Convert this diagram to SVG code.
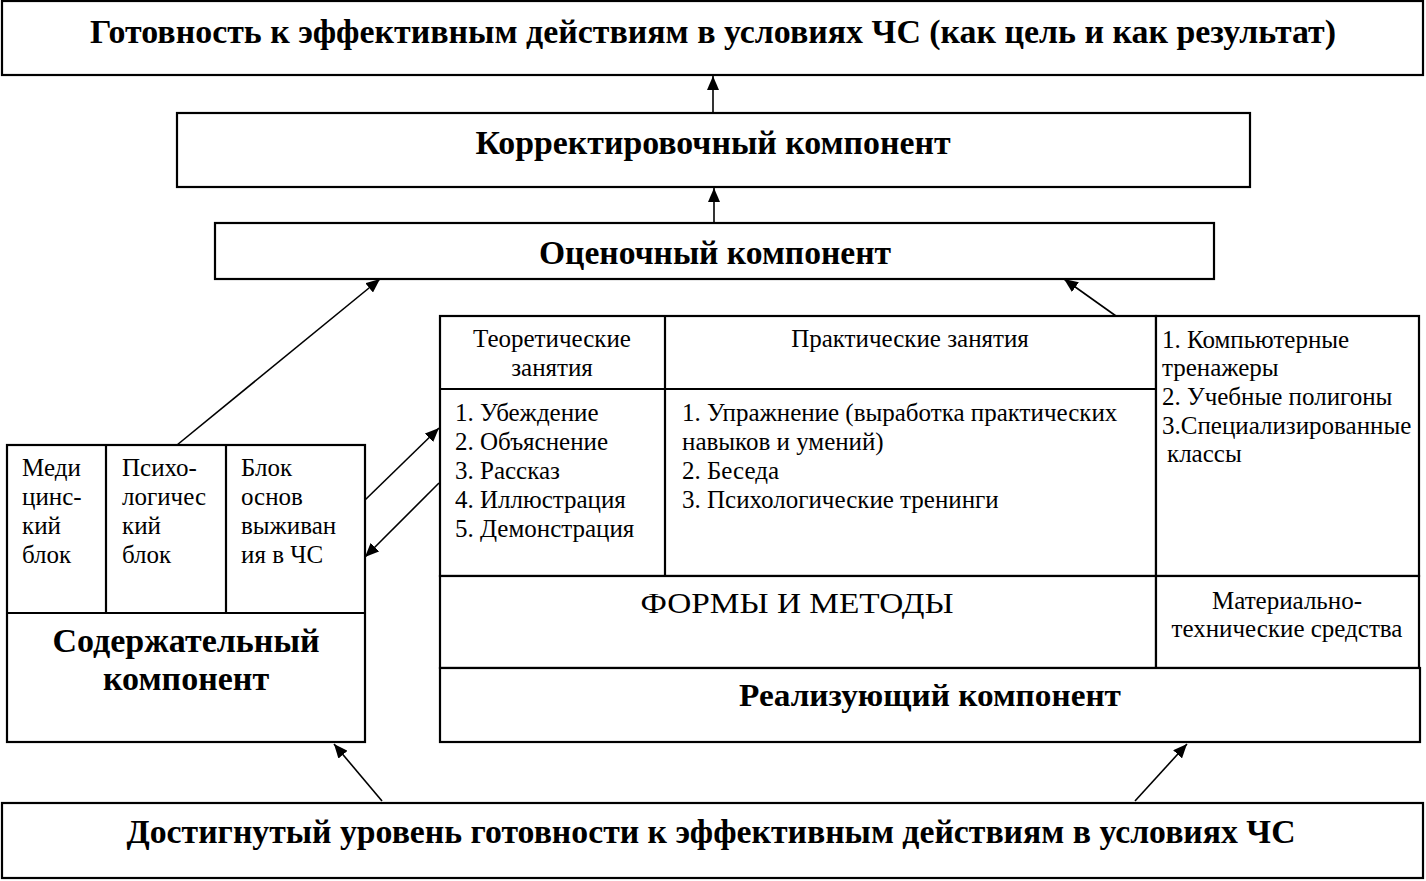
<svg xmlns="http://www.w3.org/2000/svg" width="1426" height="881" viewBox="0 0 1426 881">
<defs>
<marker id="ah" markerUnits="userSpaceOnUse" markerWidth="16" markerHeight="12" refX="14" refY="6" orient="auto">
<path d="M0,0 L14,6 L0,12 Z" fill="#000"/>
</marker>
<style>
rect,line.b{fill:#fff;stroke:#000;stroke-width:2.2}
.cl{stroke:#000;stroke-width:2.2;fill:none}
.c{stroke:#000;stroke-width:1.6;fill:none;marker-end:url(#ah)}
text{font-family:"Liberation Serif","Times New Roman",serif;fill:#000}
.h{font-weight:bold;font-size:33px;text-anchor:middle}
.n{font-size:25px}
.m{text-anchor:middle}
</style>
</defs>
<g id="connectors">
<line class="c" x1="713" y1="112" x2="713" y2="76"/>
<line class="c" x1="714" y1="222" x2="714" y2="188"/>
<line class="c" x1="177" y1="445" x2="380" y2="279"/>
<line class="c" x1="1116" y1="316" x2="1064" y2="279"/>
<line class="c" x1="365" y1="500" x2="439" y2="428"/>
<line class="c" x1="439" y1="483" x2="365" y2="557"/>
<line class="c" x1="382" y1="801" x2="334" y2="744"/>
<line class="c" x1="1135" y1="801" x2="1187" y2="744"/>
</g>
<g id="goal">
<rect x="2" y="1" width="1421" height="74"/>
<text class="h" x="713" y="43" textLength="1246" lengthAdjust="spacingAndGlyphs">Готовность к эффективным действиям в условиях ЧС (как цель и как результат)</text>
</g>
<g id="correct">
<rect x="177" y="113" width="1073" height="74"/>
<text class="h" x="713" y="154" textLength="475" lengthAdjust="spacingAndGlyphs">Корректировочный компонент</text>
</g>
<g id="eval">
<rect x="215" y="223" width="999" height="56"/>
<text class="h" x="715" y="264" textLength="352" lengthAdjust="spacingAndGlyphs">Оценочный компонент</text>
</g>
<g id="content">
<rect x="7" y="445" width="358" height="297"/>
<line class="cl" x1="7" y1="613" x2="365" y2="613"/>
<line class="cl" x1="106" y1="445" x2="106" y2="613"/>
<line class="cl" x1="226" y1="445" x2="226" y2="613"/>
<text class="n" x="22"><tspan x="22" y="476">Меди</tspan><tspan x="22" y="505">цинс-</tspan><tspan x="22" y="534">кий</tspan><tspan x="22" y="563">блок</tspan></text>
<text class="n" x="122"><tspan x="122" y="476">Психо-</tspan><tspan x="122" y="505">логичес</tspan><tspan x="122" y="534">кий</tspan><tspan x="122" y="563">блок</tspan></text>
<text class="n" x="241"><tspan x="241" y="476">Блок</tspan><tspan x="241" y="505">основ</tspan><tspan x="241" y="534">выживан</tspan><tspan x="241" y="563">ия в ЧС</tspan></text>
<text class="h" x="186" y="652" style="font-size:34px">Содержательный</text>
<text class="h" x="186" y="690" style="font-size:34px">компонент</text>
</g>
<g id="forms">
<rect x="440" y="316" width="716" height="260"/>
<line class="cl" x1="440" y1="389" x2="1156" y2="389"/>
<line class="cl" x1="665" y1="316" x2="665" y2="576"/>
<text class="n m" x="552"><tspan x="552" y="347">Теоретические</tspan><tspan x="552" y="376">занятия</tspan></text>
<text class="n m" x="910" y="347">Практические занятия</text>
<text class="n" x="455"><tspan x="455" y="421">1. Убеждение</tspan><tspan x="455" y="450">2. Объяснение</tspan><tspan x="455" y="479">3. Рассказ</tspan><tspan x="455" y="508">4. Иллюстрация</tspan><tspan x="455" y="537">5. Демонстрация</tspan></text>
<text class="n" x="682"><tspan x="682" y="421">1. Упражнение (выработка практических</tspan><tspan x="682" y="450">навыков и умений)</tspan><tspan x="682" y="479">2. Беседа</tspan><tspan x="682" y="508">3. Психологические тренинги</tspan></text>
</g>
<g id="means">
<rect x="1156" y="316" width="263" height="260"/>
<text class="n" x="1162"><tspan x="1162" y="348">1. Компьютерные</tspan><tspan x="1162" y="376">тренажеры</tspan><tspan x="1162" y="405">2. Учебные полигоны</tspan><tspan x="1162" y="434">3.Специализированные</tspan><tspan x="1167" y="462">классы</tspan></text>
</g>
<g id="forms-label">
<rect x="440" y="576" width="716" height="92"/>
<text class="m" x="797" y="613" style="font-size:30px" textLength="313" lengthAdjust="spacingAndGlyphs">ФОРМЫ И МЕТОДЫ</text>
</g>
<g id="means-label">
<rect x="1156" y="576" width="263" height="92"/>
<text class="n m" x="1287"><tspan x="1287" y="609">Материально-</tspan><tspan x="1287" y="637">технические средства</tspan></text>
</g>
<g id="realize">
<rect x="440" y="668" width="980" height="74"/>
<text class="h" x="930" y="706" style="font-size:31px" textLength="382" lengthAdjust="spacingAndGlyphs">Реализующий компонент</text>
</g>
<g id="achieved">
<rect x="2" y="803" width="1421" height="75"/>
<text class="h" x="711" y="843" textLength="1169" lengthAdjust="spacingAndGlyphs">Достигнутый уровень готовности к эффективным действиям  в условиях ЧС</text>
</g>
</svg>
